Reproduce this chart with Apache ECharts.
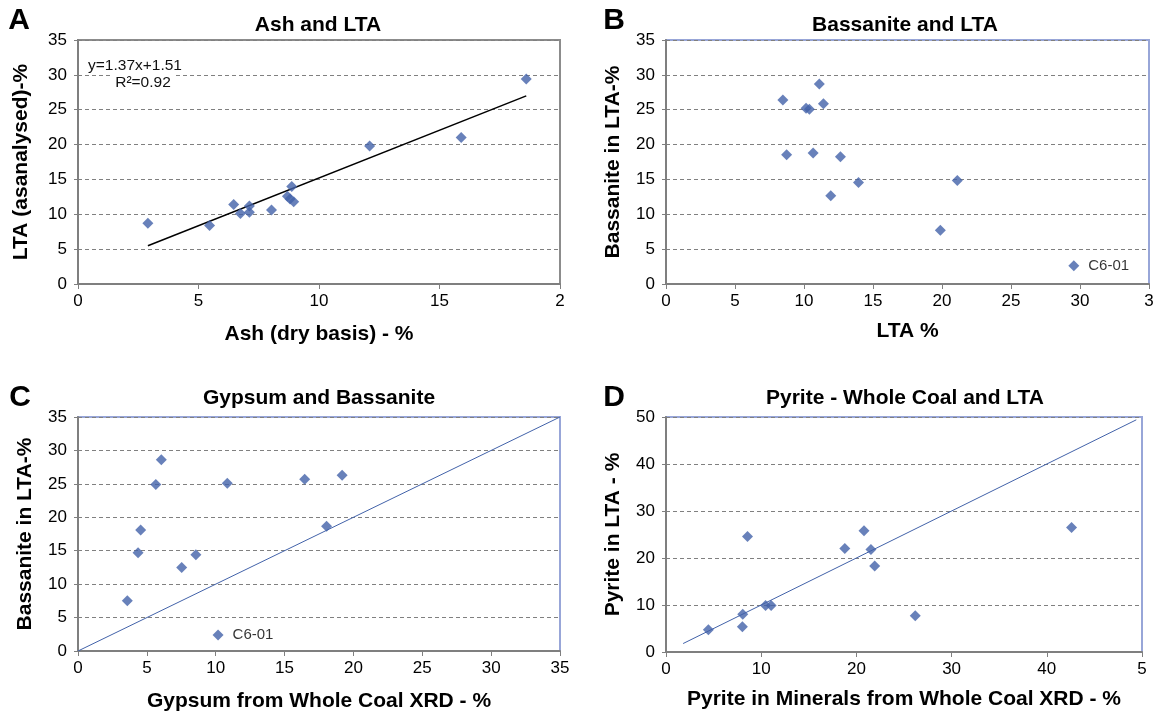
<!DOCTYPE html>
<html>
<head>
<meta charset="utf-8">
<script src="https://cdn.jsdelivr.net/npm/echarts@6/dist/echarts.min.js"></script>
<style>
  html, body { margin: 0; padding: 0; background: #fff; }
  #chart { width: 1158px; height: 714px; }
</style>
</head>
<body>
<div id="chart"></div>
<script>
// ---- Panel A: Ash vs LTA ----
const ashDry = [2.9, 5.46, 6.46, 6.74, 7.11, 7.11, 8.03, 8.69, 8.8, 8.95, 8.87, 12.1, 15.9, 18.6];
const ltaAsAnalysed = [8.7, 8.4, 11.4, 10.1, 11.2, 10.3, 10.6, 12.6, 12.2, 11.8, 14.0, 19.8, 21.0, 29.4];
const trendSlope = 1.37;
const trendIntercept = 1.51;
const trendRSquared = 0.92;
const trendXRange = [2.9, 18.6];
const ashTickLabels = ['0', '5', '10', '15', '2'];

// ---- Panel B: Bassanite vs LTA ----
const ltaPct = [8.47, 8.74, 10.15, 10.39, 10.66, 11.11, 11.41, 11.94, 12.64, 13.95, 19.88, 21.11];
const bassaniteB = [26.4, 18.55, 25.2, 25.05, 18.8, 28.7, 25.85, 12.65, 18.25, 14.55, 7.7, 14.85];
const c601B = [29.55, 2.6];
const ltaTickLabels = ['0', '5', '10', '15', '20', '25', '30', '3'];

// ---- Panel C: Gypsum vs Bassanite ----
const gypsumXrd = [3.58, 4.36, 4.55, 5.65, 6.05, 7.53, 8.56, 10.84, 16.46, 18.05, 19.18];
const bassaniteC = [7.5, 14.7, 18.1, 24.9, 28.6, 12.5, 14.4, 25.1, 25.7, 18.65, 26.3];
const c601C = [10.17, 2.4];
const oneToOneC = [0, 35];

// ---- Panel D: Pyrite whole coal vs LTA ----
const pyriteXrd = [4.45, 8.06, 8.02, 8.56, 10.46, 11.04, 18.78, 20.8, 21.53, 21.92, 26.18, 42.6];
const pyriteLta = [4.73, 8.05, 5.37, 24.58, 9.89, 9.89, 22.03, 25.78, 21.82, 18.29, 7.7, 26.48];
const oneToOneD = [1.8, 49.4];
const pyriteTickLabels = ['0', '10', '20', '30', '40', '5'];

const pairs = (xs, ys) => xs.map((x, i) => [x, ys[i]]);

const FONT = '"Liberation Sans", Arial, Helvetica, sans-serif';
const MARK = '#4262a9';
const AXIS = '#7f7f7f';

function makeX(gridIndex, max, interval, name, gap, labels) {
  return {
    type: 'value', gridIndex, min: 0, max, interval,
    name, nameLocation: 'middle', nameGap: gap,
    nameTextStyle: { fontFamily: FONT, fontSize: 21, fontWeight: 'bold', color: '#000' },
    axisLine: { show: true, onZero: false, lineStyle: { color: AXIS, width: 2 } },
    axisTick: { show: true, inside: false, length: 5, lineStyle: { color: AXIS, width: 1 } },
    axisLabel: {
      fontFamily: FONT, fontSize: 17, color: '#000', margin: 9,
      formatter: (v) => labels ? labels[Math.round(v / interval)] : String(v)
    },
    splitLine: { show: false }
  };
}

function makeY(gridIndex, max, interval, name, gap) {
  return {
    type: 'value', gridIndex, min: 0, max, interval,
    name, nameLocation: 'middle', nameGap: gap,
    nameTextStyle: { fontFamily: FONT, fontSize: 21, fontWeight: 'bold', color: '#000' },
    axisLine: { show: true, onZero: false, lineStyle: { color: AXIS, width: 2 } },
    axisTick: { show: true, inside: false, length: 4, lineStyle: { color: AXIS, width: 1 } },
    axisLabel: { fontFamily: FONT, fontSize: 17, color: '#000', margin: 11 },
    splitLine: { show: true, lineStyle: { color: '#808080', width: 1, type: [4, 3] } }
  };
}

function scatter(idx, data) {
  return {
    type: 'scatter', xAxisIndex: idx, yAxisIndex: idx, data,
    symbol: 'diamond', symbolSize: [11, 11],
    itemStyle: { color: MARK }, z: 5, silent: true
  };
}

function labelledPoint(idx, pt, text) {
  return {
    type: 'scatter', xAxisIndex: idx, yAxisIndex: idx, data: [pt],
    symbol: 'diamond', symbolSize: [11, 11],
    itemStyle: { color: MARK }, z: 5, silent: true,
    label: {
      show: true, position: 'right', distance: 9, formatter: text,
      fontFamily: FONT, fontSize: 15, color: '#000'
    }
  };
}

function line(idx, data, color, width) {
  return {
    type: 'line', xAxisIndex: idx, yAxisIndex: idx, data,
    symbol: 'none', lineStyle: { color, width }, z: 3, silent: true, animation: false
  };
}

const trendLine = trendXRange.map(x => [x, trendSlope * x + trendIntercept]);

const grids = [
  { left: 78, top: 40, width: 482, height: 244, borderColor: '#8c8c8c' },
  { left: 666, top: 40, width: 483, height: 244, borderColor: '#98a6d8' },
  { left: 78, top: 417, width: 482, height: 234, borderColor: '#98a6d8' },
  { left: 666, top: 417, width: 476, height: 235, borderColor: '#98a6d8' }
].map(g => Object.assign({ show: true, borderWidth: 2, backgroundColor: '#fff', containLabel: false }, g));

const textEl = (x, y, text, size, bold, align) => ({
  type: 'text', x, y, z: 100,
  style: {
    text, fill: '#000', align: align || 'center', verticalAlign: 'middle',
    font: (bold ? 'bold ' : '') + size + 'px ' + FONT
  }
});

const chart = echarts.init(document.getElementById('chart'), null, { renderer: 'canvas' });
chart.setOption({
  animation: false,
  backgroundColor: '#fff',
  grid: grids,
  xAxis: [
    makeX(0, 20, 5, 'Ash (dry basis) - %', 40, ashTickLabels),
    makeX(1, 35, 5, 'LTA %', 37, ltaTickLabels),
    makeX(2, 35, 5, 'Gypsum from Whole Coal XRD - %', 40, null),
    makeX(3, 50, 10, 'Pyrite in Minerals from Whole Coal XRD - %', 37, pyriteTickLabels)
  ],
  yAxis: [
    makeY(0, 35, 5, 'LTA (asanalysed)-%', 46),
    makeY(1, 35, 5, 'Bassanite in LTA-%', 42),
    makeY(2, 35, 5, 'Bassanite in LTA-%', 42),
    makeY(3, 50, 10, 'Pyrite in LTA - %', 42)
  ],
  series: [
    line(0, trendLine, '#000', 1.5),
    scatter(0, pairs(ashDry, ltaAsAnalysed)),
    scatter(1, pairs(ltaPct, bassaniteB)),
    labelledPoint(1, c601B, 'C6-01'),
    line(2, oneToOneC.map(v => [v, v]), MARK, 1),
    scatter(2, pairs(gypsumXrd, bassaniteC)),
    labelledPoint(2, c601C, 'C6-01'),
    line(3, oneToOneD.map(v => [v, v]), MARK, 1),
    scatter(3, pairs(pyriteXrd, pyriteLta))
  ],
  graphic: [
    textEl(19, 21, 'A', 30, true, 'center'),
    textEl(614, 21, 'B', 30, true, 'center'),
    textEl(20, 398, 'C', 30, true, 'center'),
    textEl(614, 398, 'D', 30, true, 'center'),
    textEl(318, 25, 'Ash and LTA', 21, true),
    textEl(905, 25, 'Bassanite and LTA', 21, true),
    textEl(319, 398, 'Gypsum and Bassanite', 21, true),
    textEl(905, 398, 'Pyrite - Whole Coal and LTA', 21, true),
    {
      type: 'text', x: 135, y: 66, z: 100,
      style: {
        text: 'y=' + trendSlope + 'x+' + trendIntercept, fill: '#111',
        align: 'center', verticalAlign: 'middle', font: '15.5px ' + FONT,
        backgroundColor: '#fff', padding: [1, 3]
      }
    },
    {
      type: 'text', x: 143, y: 83, z: 100,
      style: {
        text: 'R²=' + trendRSquared, fill: '#111',
        align: 'center', verticalAlign: 'middle', font: '15.5px ' + FONT,
        backgroundColor: '#fff', padding: [1, 3]
      }
    }
  ]
});
</script>
</body>
</html>
